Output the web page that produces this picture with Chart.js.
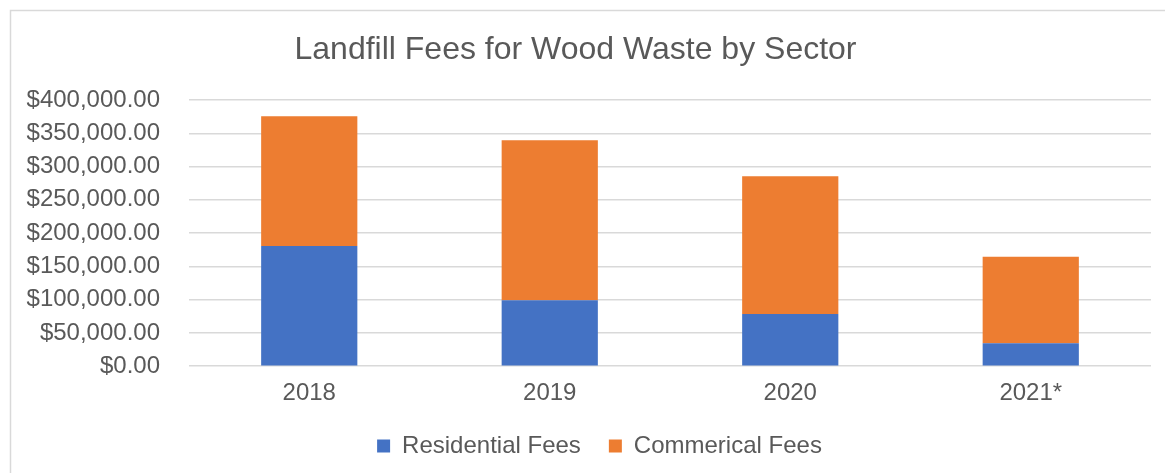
<!DOCTYPE html>
<html>
<head>
<meta charset="utf-8">
<script src="https://cdn.jsdelivr.net/npm/chart.js@4/dist/chart.umd.min.js"></script>
<style>
  html, body { margin: 0; padding: 0; background: #fff; }
  canvas { display: block; }
</style>
</head>
<body>
<canvas id="myChart" width="1165" height="473"></canvas>
<script>
// data
const years = ["2018", "2019", "2020", "2021*"];
const residentialFees = [180500, 99000, 78500, 34500];
const commercialFees = [195000, 240500, 207000, 130000];
const yTicks = { min: 0, max: 400000, step: 50000 };

const textColor = "#595959";
const fontFamily = "'Liberation Sans', Arial, sans-serif";

// the light frame round the chart (goes off the right and bottom edges)
// and a nudge of the legend, which Excel centres on the wider frame
const framePlugin = {
  id: "frame",
  afterLayout(chart) {
    const lg = chart.legend;
    lg.left += 24;
    lg.right += 24;
    lg.top -= 15;
    lg.bottom -= 15;
  },
  beforeDraw(chart) {
    const c = chart.ctx;
    c.save();
    c.strokeStyle = "#d9d9d9";
    c.lineWidth = 1.5;
    c.strokeRect(10.5, 10.5, 1200, 600);
    c.restore();
  }
};

const ctx = document.getElementById("myChart").getContext("2d");

const myChart = new Chart(ctx, {
  type: "bar",
  data: {
    labels: years,
    datasets: [
      {
        label: "Residential Fees",
        data: residentialFees,
        backgroundColor: "#4472C4",
        borderWidth: 0
      },
      {
        label: "Commerical Fees",
        data: commercialFees,
        backgroundColor: "#ED7D31",
        borderWidth: 0
      }
    ]
  },
  options: {
    responsive: false,
    animation: false,
    datasets: {
      bar: { categoryPercentage: 1, barPercentage: 0.4 }
    },
    layout: {
      padding: { left: 0, right: 14, top: 0, bottom: -10 }
    },
    plugins: {
      title: {
        display: true,
        text: "Landfill Fees for Wood Waste by Sector",
        color: textColor,
        font: { family: fontFamily, size: 32, weight: "normal" },
        padding: { top: 31, bottom: 30.6 }
      },
      legend: {
        position: "bottom",
        labels: {
          color: textColor,
          font: { family: fontFamily, size: 24 },
          boxWidth: 13,
          boxHeight: 13,
          padding: 28
        }
      },
      tooltip: { enabled: false }
    },
    scales: {
      x: {
        stacked: true,
        grid: { display: false, drawTicks: false },
        border: { display: false },
        ticks: {
          color: textColor,
          font: { family: fontFamily, size: 24 },
          padding: 13,
          maxRotation: 0
        }
      },
      y: {
        stacked: true,
        min: yTicks.min,
        max: yTicks.max,
        border: { display: false },
        grid: { color: "#d9d9d9", lineWidth: 1.5, drawTicks: false },
        afterFit(scale) { scale.width = 189; },
        ticks: {
          stepSize: yTicks.step,
          autoSkip: false,
          color: textColor,
          font: { family: fontFamily, size: 24 },
          padding: 29,
          callback: v => "$" + v.toLocaleString("en-US", { minimumFractionDigits: 2, maximumFractionDigits: 2 })
        }
      }
    }
  },
  plugins: [framePlugin]
});
</script>
</body>
</html>
